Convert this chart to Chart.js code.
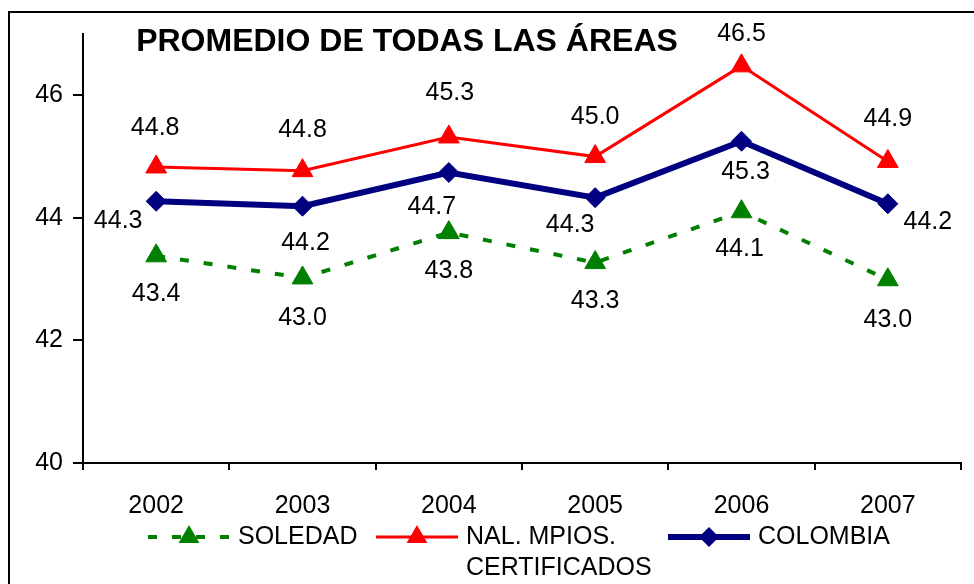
<!DOCTYPE html>
<html>
<head>
<meta charset="utf-8">
<script src="https://cdn.jsdelivr.net/npm/chart.js"></script>
<style>
  body { margin: 0; background: #fff; }
  canvas { display: block; }
</style>
</head>
<body>
<canvas id="grafico" width="974" height="584"></canvas>
<script>
    // Datos
    const years = ['2002', '2003', '2004', '2005', '2006', '2007'];
    const soledad = [43.38, 43.02, 43.76, 43.27, 44.10, 42.99];
    const nalMpios = [44.83, 44.77, 45.32, 45.00, 46.48, 44.92];
    const colombia = [44.27, 44.19, 44.74, 44.33, 45.25, 44.23];
    const yTicks = [40, 42, 44, 46];
    const titulo = 'PROMEDIO DE TODAS LAS ÁREAS';
    const legendLabels = [['SOLEDAD'], ['NAL. MPIOS.', 'CERTIFICADOS'], ['COLOMBIA']];

    const fuente = '"Liberation Sans", Arial, sans-serif';

    // posicion de las etiquetas de valores (dx, dy) respecto a cada punto
    const offSoledad = [[0, 38], [0, 40], [0, 39], [0, 39], [-2, 37], [0, 40]];
    const offNal = [[-1, -39], [0, -41], [1, -44], [0, -39], [0, -32], [0, -42]];
    const offColombia = [[-38, 20], [3, 37], [-17, 35], [-25, 27], [4, 31], [40, 18]];

    const dataLinea = {
        labels: years,
        datasets: [{
            label: 'SOLEDAD',
            data: soledad,
            borderColor: '#008000',
            backgroundColor: '#008000',
            borderWidth: 4,
            borderDash: [9, 15],
            pointStyle: 'triangle',
            pointRadius: 12,
            pointBorderWidth: 1,
            labelOffsets: offSoledad
        }, {
            label: 'NAL. MPIOS. CERTIFICADOS',
            data: nalMpios,
            borderColor: '#FF0000',
            backgroundColor: '#FF0000',
            borderWidth: 3,
            pointStyle: 'triangle',
            pointRadius: 12,
            pointBorderWidth: 1,
            labelOffsets: offNal
        }, {
            label: 'COLOMBIA',
            data: colombia,
            borderColor: '#000080',
            backgroundColor: '#000080',
            borderWidth: 6,
            pointStyle: 'rectRot',
            pointRadius: 10,
            pointBorderWidth: 1,
            labelOffsets: offColombia
        }]
    };

    // fondo, marco y titulo
    const marcoPlugin = {
        id: 'marco',
        beforeDraw(chart) {
            const ctx = chart.ctx;
            ctx.save();
            ctx.fillStyle = '#fff';
            ctx.fillRect(0, 0, chart.width, chart.height);
            ctx.strokeStyle = '#000';
            ctx.lineWidth = 2;
            ctx.beginPath();
            ctx.moveTo(chart.width, 12);
            ctx.lineTo(9, 12);
            ctx.lineTo(9, chart.height);
            ctx.stroke();
            ctx.restore();
        },
        afterDraw(chart) {
            const ctx = chart.ctx;
            ctx.save();
            ctx.fillStyle = '#000';
            ctx.font = 'bold 32px ' + fuente;
            ctx.textAlign = 'center';
            ctx.textBaseline = 'middle';
            ctx.fillText(titulo, 407, 42);
            ctx.restore();
        }
    };

    // etiquetas de valores
    const etiquetasPlugin = {
        id: 'etiquetas',
        afterDatasetsDraw(chart) {
            const ctx = chart.ctx;
            ctx.save();
            ctx.fillStyle = '#000';
            ctx.font = '25px ' + fuente;
            ctx.textAlign = 'center';
            ctx.textBaseline = 'middle';
            chart.data.datasets.forEach((ds, i) => {
                const meta = chart.getDatasetMeta(i);
                meta.data.forEach((pt, j) => {
                    const off = ds.labelOffsets[j];
                    ctx.fillText(ds.data[j].toFixed(1), pt.x + off[0], pt.y + off[1]);
                });
            });
            ctx.restore();
        }
    };

    function marcador(ctx, estilo, x, y, r) {
        ctx.beginPath();
        if (estilo === 'triangle') {
            ctx.moveTo(x, y - r);
            ctx.lineTo(x + r * 0.866, y + r * 0.5);
            ctx.lineTo(x - r * 0.866, y + r * 0.5);
        } else {
            ctx.moveTo(x, y - r);
            ctx.lineTo(x + r, y);
            ctx.lineTo(x, y + r);
            ctx.lineTo(x - r, y);
        }
        ctx.closePath();
        ctx.fill();
    }

    // leyenda propia (una etiqueta en dos lineas)
    const leyendaPlugin = {
        id: 'leyenda',
        afterDraw(chart) {
            const ctx = chart.ctx;
            const inicios = [148, 376, 668];
            const y = 537;
            ctx.save();
            ctx.font = '25px ' + fuente;
            ctx.textBaseline = 'middle';
            ctx.textAlign = 'left';
            chart.data.datasets.forEach((ds, i) => {
                const x0 = inicios[i];
                ctx.strokeStyle = ds.borderColor;
                ctx.fillStyle = ds.backgroundColor;
                ctx.lineWidth = ds.borderWidth;
                ctx.setLineDash(ds.borderDash || []);
                ctx.beginPath();
                ctx.moveTo(x0, y);
                ctx.lineTo(x0 + 82, y);
                ctx.stroke();
                ctx.setLineDash([]);
                marcador(ctx, ds.pointStyle, x0 + 41, y, ds.pointRadius);
                ctx.fillStyle = '#000';
                legendLabels[i].forEach((linea, k) => {
                    ctx.fillText(linea, x0 + 90, y + k * 31);
                });
            });
            ctx.restore();
        }
    };

    const configLinea = {
        type: 'line',
        data: dataLinea,
        options: {
            responsive: false,
            animation: false,
            layout: {
                padding: { top: 34, right: 7, left: 0, bottom: 0 }
            },
            scales: {
                x: {
                    offset: true,
                    grid: {
                        offset: true,
                        drawOnChartArea: false,
                        drawTicks: true,
                        tickLength: 7,
                        color: '#000',
                        lineWidth: 2
                    },
                    border: { color: '#000', width: 2 },
                    ticks: {
                        color: '#000',
                        font: { size: 25, family: fuente },
                        padding: 21,
                        maxRotation: 0
                    },
                    afterFit(scale) { scale.height = 121; }
                },
                y: {
                    min: 40,
                    max: 47,
                    afterBuildTicks(scale) {
                        scale.ticks = yTicks.map(v => ({ value: v }));
                    },
                    grid: {
                        drawOnChartArea: false,
                        drawTicks: true,
                        tickLength: 10,
                        color: '#000',
                        lineWidth: 2
                    },
                    border: { color: '#000', width: 2 },
                    ticks: {
                        color: '#000',
                        font: { size: 25, family: fuente },
                        padding: 10
                    },
                    afterFit(scale) { scale.width = 83; }
                }
            },
            plugins: {
                legend: { display: false },
                title: { display: false },
                tooltip: { enabled: false }
            }
        },
        plugins: [marcoPlugin, etiquetasPlugin, leyendaPlugin]
    };

    const ctxLinea = document.getElementById('grafico').getContext('2d');
    const graficoLinea = new Chart(ctxLinea, configLinea);
</script>
</body>
</html>
